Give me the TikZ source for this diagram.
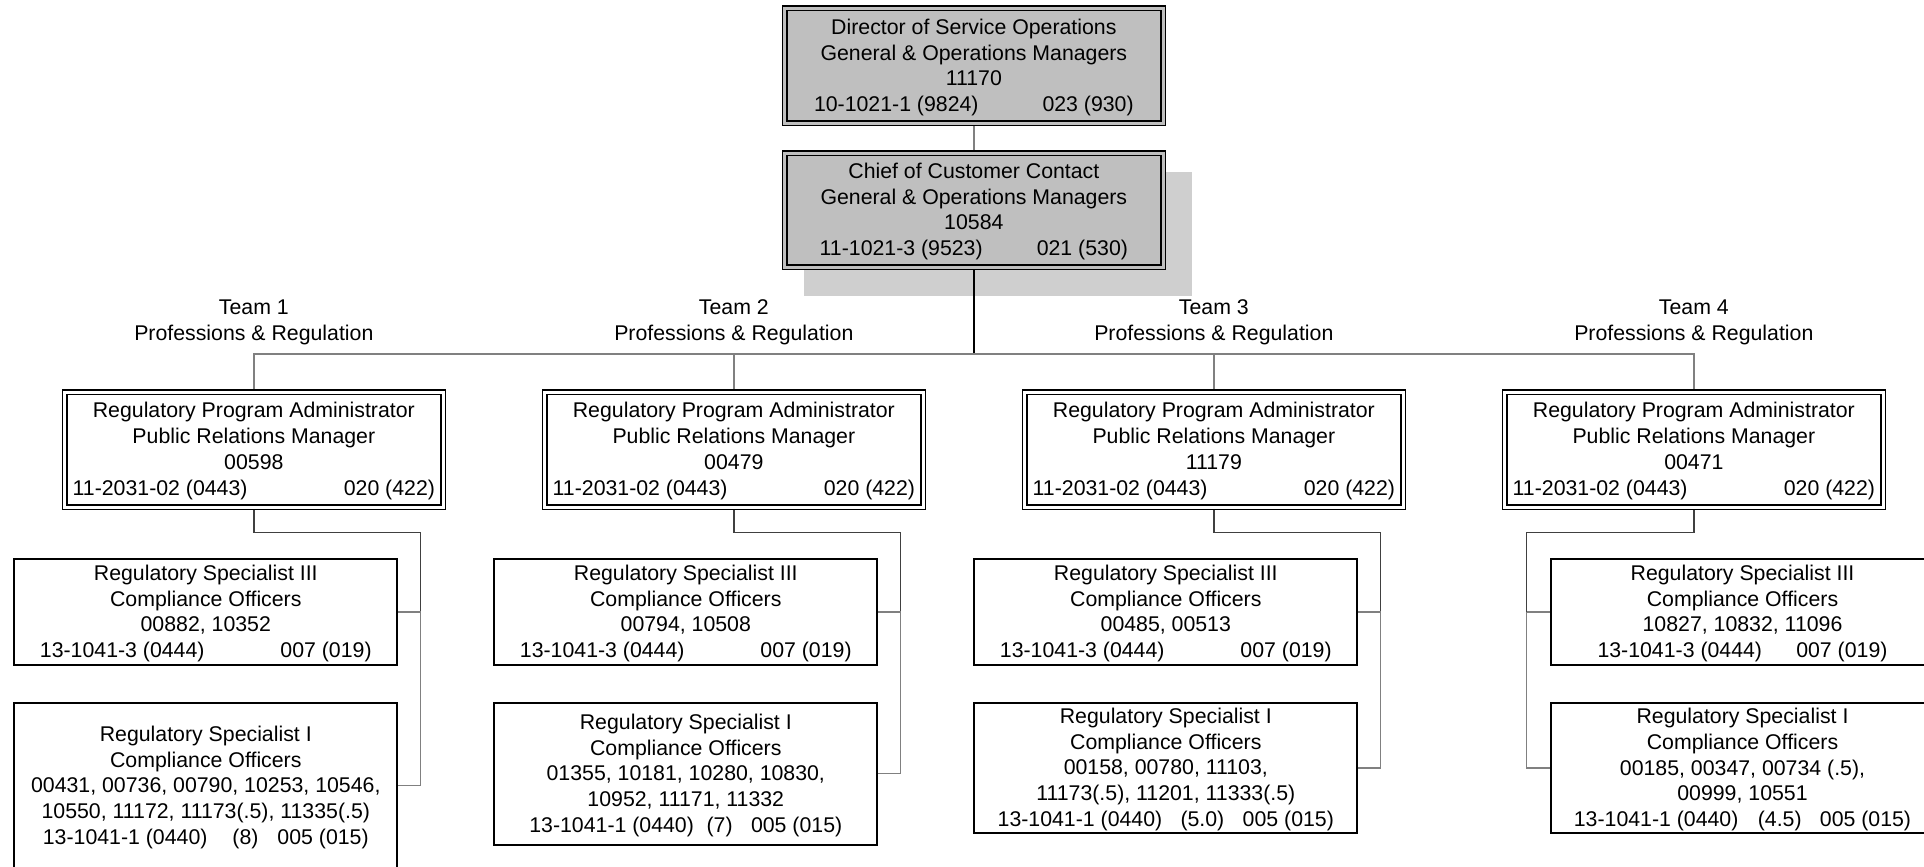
\documentclass[tikz,border=0pt]{standalone}
\usepackage{fontspec}
\setmainfont{Liberation Sans}
\usetikzlibrary{calc}
\pgfdeclarelayer{background}
\pgfsetlayers{background,main}
% a line with one part flush left and one flush right
\newcommand\twoends[3]{\makebox[#1pt]{#2\hfill#3}}

\tikzset{
  every node/.style={font=\fontsize{21.3pt}{25.7pt}\selectfont, inner sep=0pt},
  % the text of a box sits as a label on the box centre, a little low
  txt/.style={align=center, yshift=-1.5pt, label distance=0pt},
  dbox/.style={draw, line width=1.5pt, double distance=3pt,
               minimum width=378.3pt, minimum height=115pt},
  headbox/.style={dbox, fill=black!25, double=black!25},
  mgrbox/.style={dbox, fill=white, double=white},
  specbox/.style={draw, line width=2pt, fill=white, minimum width=383pt},
  lbl/.style={align=center},
  conn/.style={line width=1.3pt, draw=black!50},
  dconn/.style={line width=1.3pt, draw=black!75},
  bconn/.style={line width=1.3pt, draw=black},
}

\begin{document}
\begin{tikzpicture}[x=1pt,y=-1pt]
\useasboundingbox (0,0) rectangle (1924,867);
\clip (0,0) rectangle (1924,867);

% top of the chart
\node[headbox, label={[txt]center:{Director of Service Operations\\
   General \& Operations Managers\\11170\\
   \twoends{319.7}{10-1021-1 (9824)}{023 (930)}}}] (dir) at (973.85,65.85) {};
\node[headbox, minimum height=114pt, label={[txt]center:{Chief of Customer Contact\\
   General \& Operations Managers\\10584\\
   \twoends{308.3}{11-1021-3 (9523)}{021 (530)}}}] (chief) at (973.85,210) {};

% team headings
\foreach \c/\n in {253.85/1, 733.85/2, 1213.85/3, 1693.85/4}
  \node[lbl] (lab\n) at (\c,322.3) {Team \n\\Professions \& Regulation};

% program administrators
\foreach \c/\n/\id in {253.85/1/00598, 733.85/2/00479, 1213.85/3/11179, 1693.85/4/00471}
  \node[mgrbox, label={[txt]center:{Regulatory Program Administrator\\
     Public Relations Manager\\\id\\
     \twoends{362.3}{11-2031-02 (0443)}{020 (422)}}}] (m\n) at (\c,449.5) {};

% specialists III
\node[specbox, minimum height=106.3pt, label={[txt]center:{Regulatory Specialist III\\
   Compliance Officers\\00882, 10352\\
   \twoends{331.7}{13-1041-3 (0444)}{007 (019)}}}] (s1) at (205.8,611.85) {};
\node[specbox, minimum height=106.3pt, label={[txt]center:{Regulatory Specialist III\\
   Compliance Officers\\00794, 10508\\
   \twoends{331.7}{13-1041-3 (0444)}{007 (019)}}}] (s2) at (685.8,611.85) {};
\node[specbox, minimum height=106.3pt, label={[txt]center:{Regulatory Specialist III\\
   Compliance Officers\\00485, 00513\\
   \twoends{331.7}{13-1041-3 (0444)}{007 (019)}}}] (s3) at (1165.8,611.85) {};
\node[specbox, minimum height=106.3pt, label={[txt]center:{Regulatory Specialist III\\
   Compliance Officers\\10827, 10832, 11096\\
   \twoends{290}{13-1041-3 (0444)}{007 (019)}}}] (s4) at (1742.5,611.85) {};

% specialists I
\node[specbox, minimum height=164.7pt, label={[txt]center:{Regulatory Specialist I\\
   Compliance Officers\\
   00431, 00736, 00790, 10253, 10546,\\10550, 11172, 11173(.5), 11335(.5)\\
   13-1041-1 (0440)\hspace{25pt}(8)\hspace{19pt}005 (015)}}] (r1) at (205.8,785.7) {};
\node[specbox, minimum height=142pt, label={[txt]center:{Regulatory Specialist I\\
   Compliance Officers\\
   01355, 10181, 10280, 10830,\\10952, 11171, 11332\\
   13-1041-1 (0440)\hspace{12.7pt}(7)\hspace{18.4pt}005 (015)}}] (r2) at (685.8,773.7) {};
\node[specbox, minimum height=130.3pt, label={[txt]center:{Regulatory Specialist I\\
   Compliance Officers\\
   00158, 00780, 11103,\\11173(.5), 11201, 11333(.5)\\
   13-1041-1 (0440)\hspace{18.3pt}(5.0)\hspace{18.4pt}005 (015)}}] (r3) at (1165.8,767.85) {};
\node[specbox, minimum height=130.6pt, label={[txt]center:{Regulatory Specialist I\\
   Compliance Officers\\
   00185, 00347, 00734 (.5),\\00999, 10551\\
   13-1041-1 (0440)\hspace{19.4pt}(4.5)\hspace{18.3pt}005 (015)}}] (r4) at (1742.5,768) {};

% junction points
\coordinate (bus) at (973.85,354);
\coordinate (j1) at (420.7,532.5);
\coordinate (j2) at (900.7,532.5);
\coordinate (j3) at (1380.7,532.5);
\coordinate (j4) at (1526.7,532.5);

\begin{pgfonlayer}{background}
  % drop shadow behind the chief
  \fill[black!19] ([xshift=20.3pt,yshift=-20pt]chief.north west)
                  rectangle ([xshift=28pt,yshift=-28pt]chief.south east);
  % reporting lines
  \draw[conn] (dir.south) -- (chief.north);
  \draw[bconn] (chief.south) -- (bus);
  \draw[conn] (m1.north) |- (bus) -| (m4.north);
  \draw[conn] (m2.north) -- (m2.north |- bus);
  \draw[conn] (m3.north) -- (m3.north |- bus);
  \foreach \i in {1,2,3,4}{
    \draw[dconn] (m\i.south) |- (j\i) -- (j\i |- s\i.east);
    \draw[conn] (j\i |- s\i.east) -- (s\i.east);
    \draw[conn] (j\i |- s\i.east) |- (r\i.east);
  }
\end{pgfonlayer}
\end{tikzpicture}
\end{document}
